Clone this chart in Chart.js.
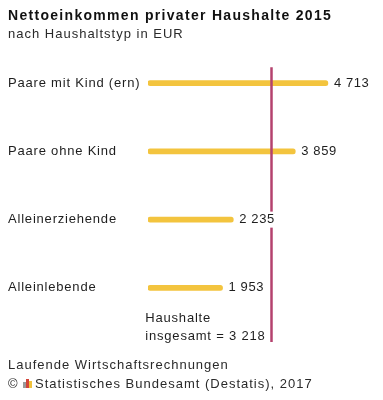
<!DOCTYPE html>
<html>
<head>
<meta charset="utf-8">
<script src="https://cdn.jsdelivr.net/npm/chart.js@4.4.1/dist/chart.umd.min.js"></script>
<style>
  html, body { margin: 0; padding: 0; background: #fff; }
  #wrap { width: 383px; height: 400px; position: relative; }
</style>
</head>
<body>
<div id="wrap"><canvas id="chart"></canvas></div>
<script>
const categories = ['Paare mit Kind (ern)', 'Paare ohne Kind', 'Alleinerziehende', 'Alleinlebende'];
const income = [4713, 3859, 2235, 1953];
const totalIncome = 3218;

const FONT = "'Liberation Sans', Arial, sans-serif";
const fmt = (v) => String(v).replace(/\B(?=(\d{3})+(?!\d))/g, ' ');

// wider tracking like the original graphic (also hits the tick labels)
const tracking = {
  id: 'tracking',
  beforeDraw(chart) { chart.ctx.letterSpacing = '0.8px'; },
  afterDraw(chart) { chart.ctx.letterSpacing = '0px'; }
};

// title, notes, reference line, value labels
const decorations = {
  id: 'decorations',
  afterDatasetsDraw(chart) {
    const { ctx, chartArea, scales } = chart;
    const x = scales.x;
    const y = scales.y;
    const lineX = Math.round(x.getPixelForValue(totalIncome)) + 0.5;

    ctx.save();
    ctx.strokeStyle = '#b4426e';
    ctx.lineWidth = 2.5;
    ctx.beginPath();
    ctx.moveTo(lineX, y.getPixelForValue(0) - 16);
    ctx.lineTo(lineX, chartArea.bottom + 20);
    ctx.stroke();

    // value labels, white behind so the line breaks under them
    ctx.letterSpacing = '0.6px';
    ctx.font = '13px ' + FONT;
    ctx.textBaseline = 'middle';
    ctx.textAlign = 'left';
    const meta = chart.getDatasetMeta(0);
    meta.data.forEach((bar, i) => {
      const txt = fmt(income[i]);
      const tx = bar.x + 6;
      const w = ctx.measureText(txt).width;
      ctx.fillStyle = '#fff';
      ctx.fillRect(tx - 1, bar.y - 8, w + 2, 16);
      ctx.fillStyle = '#1e1e1e';
      ctx.fillText(txt, tx, bar.y);
    });

    // total annotation next to the line
    ctx.letterSpacing = '0.8px';
    ctx.textBaseline = 'alphabetic';
    ctx.fillStyle = '#1e1e1e';
    const by = chartArea.bottom;
    const t2 = 'insgesamt = ' + fmt(totalIncome);
    const w2 = ctx.measureText(t2).width;
    const ax = lineX - 6 - w2;
    ctx.fillText('Haushalte', ax, by);
    ctx.fillText(t2, ax, by + 18);

    // heading
    ctx.letterSpacing = '1.3px';
    ctx.fillStyle = '#111';
    ctx.font = 'bold 14px ' + FONT;
    ctx.fillText('Nettoeinkommen privater Haushalte 2015', 8, 20);
    ctx.letterSpacing = '1px';
    ctx.fillStyle = '#2a2a2a';
    ctx.font = '13px ' + FONT;
    ctx.fillText('nach Haushaltstyp in EUR', 8, 38);

    // source
    ctx.letterSpacing = '1px';
    ctx.font = '13px ' + FONT;
    ctx.fillText('Laufende Wirtschaftsrechnungen', 8, 369);
    ctx.fillText('\u00a9', 8, 388);
    ctx.fillStyle = '#9a9a9a';
    ctx.fillRect(23, 382, 3, 6);
    ctx.fillStyle = '#d2453a';
    ctx.fillRect(26, 379, 3, 9);
    ctx.fillStyle = '#f0c23c';
    ctx.fillRect(29, 381, 3, 7);
    ctx.fillStyle = '#2a2a2a';
    ctx.fillText('Statistisches Bundesamt (Destatis), 2017', 35, 388);
    ctx.restore();
  }
};

new Chart(document.getElementById('chart'), {
  type: 'bar',
  data: {
    labels: categories,
    datasets: [{
      data: income,
      backgroundColor: '#f3c43e',
      barThickness: 5,
      borderRadius: 2.5,
      borderSkipped: false
    }]
  },
  options: {
    indexAxis: 'y',
    responsive: true,
    maintainAspectRatio: false,
    animation: false,
    layout: { padding: { top: 49, bottom: 78, left: 8, right: 6 } },
    plugins: {
      legend: { display: false },
      tooltip: { enabled: false }
    },
    scales: {
      x: {
        display: false,
        min: 0,
        max: 6000
      },
      y: {
        afterFit: (scale) => { scale.width = 140; },
        grid: { display: false },
        border: { display: false },
        ticks: {
          crossAlign: 'far',
          color: '#1e1e1e',
          font: { family: FONT, size: 13 }
        }
      }
    }
  },
  plugins: [tracking, decorations]
});
</script>
</body>
</html>
